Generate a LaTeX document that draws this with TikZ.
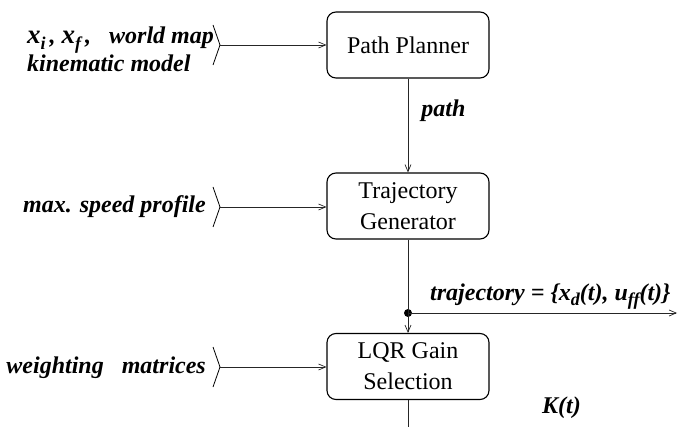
\documentclass[tikz,border=0pt]{standalone}
\usepackage{fontspec}
\setmainfont{Liberation Serif}
\usetikzlibrary{arrows.meta}

% bold italic labels and lowered subscripts
\newcommand\lbl{\bfseries\itshape\fontsize{24}{26}\selectfont}
\newcommand\lowsub[1]{\raisebox{-0.22em}{\fontsize{18}{18}\selectfont #1}}
\newcommand\bigx{{\fontsize{27}{27}\selectfont x}}

\begin{document}
\begin{tikzpicture}[x=1pt,y=-1pt,
  blockbox/.style={draw=black,line width=1.1pt,rounded corners=9pt,
    minimum width=162pt,minimum height=66pt,align=center,
    font=\fontsize{24}{31}\selectfont,inner sep=0pt},
  flow/.style={draw=black!85,line width=0.8pt,
    -{Straight Barb[length=7pt,width=6pt,line width=0.7pt]}},
  plain/.style={draw=black!85,line width=0.8pt},
  chev/.style={draw=black,line width=0.8pt},
  lab/.style={font=\lbl,inner sep=0pt}]

\useasboundingbox (0,0) rectangle (679,427);

% processing blocks
\node[blockbox] (pp)  at (408,45)    {Path Planner};
\node[blockbox] (tg)  at (408,206)   {Trajectory\\Generator};
\node[blockbox] (lqr) at (408,366.5) {LQR Gain\\Selection};

% branch point of the trajectory signal
\node[circle,fill=black,inner sep=0pt,minimum size=8pt] (dot) at (408,313) {};
\coordinate (trajend) at (677,313);
\coordinate (gainend) at (408,427);

% input labels
\node[lab,anchor=base west] (inA1) at (27,44)
  {\bigx\lowsub{i}\,, \bigx\lowsub{f}\,,\ \ \ world map};
\node[lab,anchor=base west] (inA2) at (27,72) {kinematic model};
\node[lab,anchor=base east] (inB) at (206,213) {max. speed profile};
\node[lab,anchor=base east] (inC) at (206,373) {weighting\ \ \ matrices};

% input chevrons
\coordinate (cA) at (220,45);
\coordinate (cB) at (220,207);
\coordinate (cC) at (220,367);
\foreach \c in {cA,cB,cC}
  \draw[chev] ([shift={(-7,-20)}]\c) -- (\c) -- ([shift={(-7,20)}]\c);

% input connectors
\draw[flow] (cA) -- (pp.west |- cA);
\draw[flow] (cB) -- (tg.west |- cB);
\draw[flow] (cC) -- (lqr.west |- cC);

% main signal chain
\draw[flow] (pp.south) -- node[lab,anchor=base west,xshift=13pt,yshift=9pt] (pathlbl) {path} (tg.north);
\draw[plain] (tg.south) -- (dot.center);
\draw[flow] (dot.center) -- (lqr.north);
\draw[flow] (dot.center) -- (trajend);
\draw[plain] (lqr.south) -- (gainend);

% output labels
\node[lab,anchor=base west] (trajlbl) at (430,300)
  {trajectory = \{x\lowsub{d}(t), u\lowsub{ff}(t)\}};
\node[lab,anchor=base west] (klbl) at (542,413) {K(t)};
\end{tikzpicture}
\end{document}
